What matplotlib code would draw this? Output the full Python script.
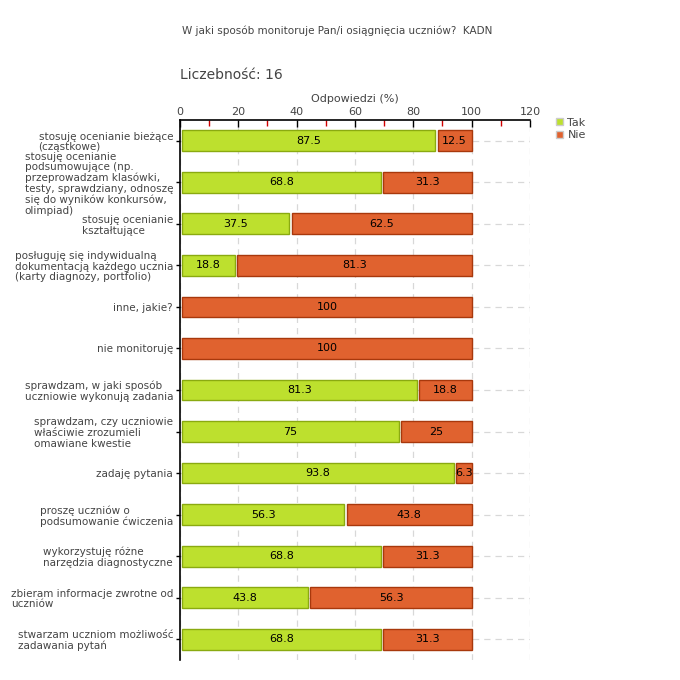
import numpy as np
import matplotlib.pyplot as plt
from matplotlib.ticker import MultipleLocator
from matplotlib.patches import Patch

categories = [
    "stosuję ocenianie bieżące\n(cząstkowe)",
    "stosuję ocenianie\npodsumowujące (np.\nprzeprowadzam klasówki,\ntesty, sprawdziany, odnoszę\nsię do wyników konkursów,\nolimpiad)",
    "stosuję ocenianie\nkształtujące",
    "posługuję się indywidualną\ndokumentacją każdego ucznia\n(karty diagnozy, portfolio)",
    "inne, jakie?",
    "nie monitoruję",
    "sprawdzam, w jaki sposób\nuczniowie wykonują zadania",
    "sprawdzam, czy uczniowie\nwłaściwie zrozumieli\nomawiane kwestie",
    "zadaję pytania",
    "proszę uczniów o\npodsumowanie ćwiczenia",
    "wykorzystuję różne\nnarzędzia diagnostyczne",
    "zbieram informacje zwrotne od\nuczniów",
    "stwarzam uczniom możliwość\nzadawania pytań",
]
tak = [87.5, 68.8, 37.5, 18.8, 0, 0, 81.3, 75, 93.8, 56.3, 68.8, 43.8, 68.8]
nie = [12.5, 31.3, 62.5, 81.3, 100, 100, 18.8, 25, 6.3, 43.8, 31.3, 56.3, 31.3]
series_names = ["Tak", "Nie"]

green, green_edge = "#bde02e", "#8aaa10"
orange, orange_edge = "#e0622f", "#a8380c"

fig = plt.figure(figsize=(6.8, 6.8), dpi=100)
ax = fig.add_axes([0.2647, 0.0294, 0.5147, 0.7941])

y = np.arange(len(categories))
pad = 0.8  # small gap between segments
for i in y:
    if tak[i] > 0:
        ax.barh(i, tak[i] - pad, left=pad, height=0.5, color=green,
                edgecolor=green_edge, linewidth=1, zorder=3)
        ax.text(tak[i] / 2 + pad / 2, i, f"{tak[i]:g}", ha="center", va="center",
                fontsize=8, zorder=4)
    ax.barh(i, nie[i] - pad, left=tak[i] + pad, height=0.5, color=orange,
            edgecolor=orange_edge, linewidth=1, zorder=3)
    ax.text(tak[i] + nie[i] / 2 + pad / 2, i, f"{nie[i]:g}", ha="center",
            va="center", fontsize=8, zorder=4)

ax.set_xlim(0, 120)
ax.set_ylim(12.5, -0.5)
ax.xaxis.set_major_locator(MultipleLocator(20))
ax.xaxis.set_minor_locator(MultipleLocator(10))
ax.xaxis.tick_top()
ax.xaxis.set_label_position("top")
ax.tick_params(axis="x", which="major", direction="in", length=5, width=1,
               labelsize=8, colors="black", labelcolor="#444444", pad=2)
ax.tick_params(axis="x", which="minor", direction="in", length=4, width=1,
               color="#d00000")
ax.set_xlabel("Odpowiedzi (%)", fontsize=8, color="#444444", labelpad=4)

ax.set_yticks(y)
ax.set_yticklabels(categories, fontsize=7.5, color="#444444",
                   multialignment="left", linespacing=1.08)
ax.tick_params(axis="y", direction="out", length=3, width=1, pad=2)

for s in ["right", "bottom"]:
    ax.spines[s].set_visible(False)
for s in ["top", "left"]:
    ax.spines[s].set_linewidth(1.2)

ax.grid(True, axis="both", which="major", color="#d8d8d8", linestyle=(0, (5, 4)),
        linewidth=0.9, zorder=0)
ax.set_axisbelow(True)

fig.text(0.268, 0.955, "W jaki sposób monitoruje Pan/i osiągnięcia uczniów?  KADN",
         fontsize=7.5, color="#444444", va="center")
fig.text(0.265, 0.89, "Liczebność: 16", fontsize=10, color="#444444", va="center")

handles = [Patch(facecolor=green, edgecolor="#cccccc"),
           Patch(facecolor=orange, edgecolor="#cccccc")]
fig.legend(handles, series_names, loc="upper left", bbox_to_anchor=(0.81, 0.835),
           frameon=False, fontsize=8, handlelength=0.6, handleheight=0.6,
           handletextpad=0.4, labelspacing=0.2, borderpad=0, labelcolor="#444444")

fig.savefig("out.png", dpi=100)
